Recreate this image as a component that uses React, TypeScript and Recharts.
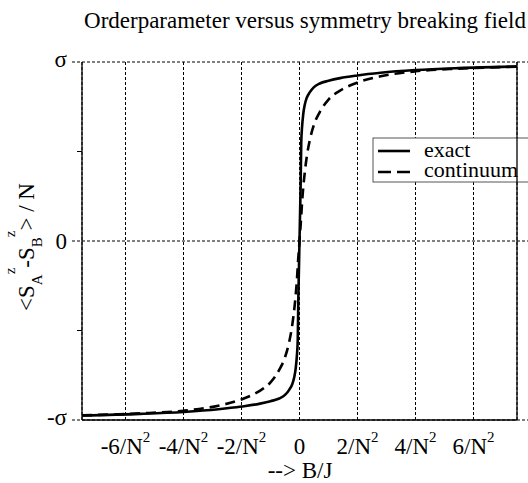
import { CartesianGrid, Line, LineChart, XAxis, YAxis } from "recharts";

const FONT = "'Liberation Serif', 'Times New Roman', serif";

// field B/J in units of 1/N^2
const fieldValues = [
  -7.5, -5.5, -4.0, -2.8, -2.0, -1.4, -1.0, -0.7, -0.5, -0.35, -0.25, -0.18, -0.13, -0.09, -0.06, -0.04, -0.02,
  0,
  0.02, 0.04, 0.06, 0.09, 0.13, 0.18, 0.25, 0.35, 0.5, 0.7, 1.0, 1.4, 2.0, 2.8, 4.0, 5.5, 7.5,
];

// order parameter in units of sigma
const exactValues = [
  -0.975, -0.966, -0.955, -0.94, -0.925, -0.91, -0.895, -0.88, -0.86, -0.83, -0.8, -0.76, -0.71, -0.64, -0.55, -0.32, -0.16,
  0,
  0.16, 0.32, 0.55, 0.64, 0.71, 0.76, 0.8, 0.83, 0.86, 0.88, 0.895, 0.91, 0.925, 0.94, 0.955, 0.966, 0.975,
];

const continuumValues = [
  -0.974, -0.963, -0.948, -0.92, -0.885, -0.84, -0.79, -0.72, -0.65, -0.56, -0.47, -0.38, -0.3, -0.22, -0.14, -0.09, -0.05,
  0,
  0.05, 0.09, 0.14, 0.22, 0.3, 0.38, 0.47, 0.56, 0.65, 0.72, 0.79, 0.84, 0.885, 0.92, 0.948, 0.963, 0.974,
];

const xTicks = [-6, -4, -2, 0, 2, 4, 6];
const xTickLabels = ["-6/N", "-4/N", "-2/N", "0", "2/N", "4/N", "6/N"];
const yTicks = [-1, -0.5, 0, 0.5, 1];
const yTickLabels = ["-σ", "", "0", "", "σ"];
const seriesNames = ["exact", "continuum"];

const data = fieldValues.map((b, i) => ({ b, exact: exactValues[i], continuum: continuumValues[i] }));

const CHART_W = 528;
const CHART_H = 483;

function XTick(props: any) {
  const { x, y, payload } = props;
  const idx = xTicks.indexOf(payload.value);
  const label = xTickLabels[idx];
  const hasPower = payload.value !== 0;
  return (
    <text x={x} y={y + 34} textAnchor="middle" fontFamily={FONT} fontSize={23} fill="#000">
      {label}
      {hasPower ? (
        <tspan fontSize={15} dy={-12}>
          2
        </tspan>
      ) : null}
    </text>
  );
}

function YTick(props: any) {
  const { x, y, payload } = props;
  const idx = yTicks.indexOf(payload.value);
  const label = yTickLabels[idx];
  if (!label) {
    return <line x1={x - 5} x2={x} y1={y} y2={y} stroke="#000" strokeWidth={1} />;
  }
  const isDigit = label === "0";
  return (
    <g>
      <line x1={x - 10} x2={CHART_W} y1={y} y2={y} stroke="#000" strokeWidth={1} strokeDasharray="3 2" />
      <text x={x - 15} y={y + (isDigit ? 8 : 5)} textAnchor="end" fontFamily={FONT} fontSize={23} fill="#000">
        {label}
      </text>
    </g>
  );
}

export default function App() {
  return (
    <div style={{ position: "absolute", left: 0, top: 0, width: CHART_W, height: CHART_H, background: "#fff" }}>
      <LineChart width={CHART_W} height={CHART_H} data={data} margin={{ top: 62, right: 0, bottom: 0, left: 0 }}>
        <CartesianGrid yAxisId="l" horizontal={false} stroke="#000" strokeWidth={1} strokeDasharray="3 2" />
        <XAxis
          type="number"
          dataKey="b"
          domain={[-7.5, 7.5]}
          ticks={xTicks}
          interval={0}
          height={63}
          tickSize={0}
          tickMargin={0}
          tickLine={false}
          allowDataOverflow
          axisLine={{ stroke: "#000", strokeWidth: 1.3 }}
          tick={(p: any) => <XTick {...p} />}
        />
        <YAxis
          yAxisId="l"
          type="number"
          domain={[-1, 1]}
          ticks={yTicks}
          interval={0}
          width={82}
          tickSize={0}
          tickMargin={0}
          tickLine={false}
          allowDataOverflow
          axisLine={{ stroke: "#000", strokeWidth: 1.3 }}
          tick={(p: any) => <YTick {...p} />}
        />
        <YAxis
          yAxisId="r"
          orientation="right"
          type="number"
          domain={[-1, 1]}
          ticks={[-0.5, 0.5]}
          interval={0}
          width={11}
          tickSize={5}
          tick={false}
          tickLine={{ stroke: "#000", strokeWidth: 1 }}
          axisLine={{ stroke: "#000", strokeWidth: 1.3 }}
        />
        <Line
          yAxisId="l"
          dataKey="exact"
          type="monotone"
          stroke="#000"
          strokeWidth={2.6}
          dot={false}
          isAnimationActive={false}
        />
        <Line
          yAxisId="l"
          dataKey="continuum"
          type="monotone"
          stroke="#000"
          strokeWidth={2.6}
          strokeDasharray="10 6"
          dot={false}
          isAnimationActive={false}
        />
        <g>
          <rect x={373} y={138} width={170} height={44} fill="#fff" stroke="#555" strokeWidth={1} />
          <line x1={378} x2={410} y1={151} y2={151} stroke="#000" strokeWidth={2.6} />
          <line x1={378} x2={410} y1={172} y2={172} stroke="#000" strokeWidth={2.6} strokeDasharray="13 6" />
          <text x={424} y={157} fontFamily={FONT} fontSize={22} fill="#000">
            {seriesNames[0]}
          </text>
          <text x={424} y={177} fontFamily={FONT} fontSize={22} fill="#000">
            {seriesNames[1]}
          </text>
        </g>
        <text x={305} y={28} textAnchor="middle" fontFamily={FONT} fontSize={23} fill="#000">
          Orderparameter versus symmetry breaking field
        </text>
        <text x={300} y={478} textAnchor="middle" fontFamily={FONT} fontSize={23} fill="#000">
          {"--> B/J"}
        </text>
        <text
          transform="translate(34 247) rotate(-90)"
          textAnchor="middle"
          fontFamily={FONT}
          fontSize={23}
          fill="#000"
        >
          {"<S"}
          <tspan fontSize={15} dy={8}>A</tspan>
          <tspan fontSize={15} dy={-27}>z</tspan>
          <tspan dy={19}>-S</tspan>
          <tspan fontSize={15} dy={8}>B</tspan>
          <tspan fontSize={15} dy={-27}>z</tspan>
          <tspan dy={19}>{"> / N"}</tspan>
        </text>
      </LineChart>
    </div>
  );
}
